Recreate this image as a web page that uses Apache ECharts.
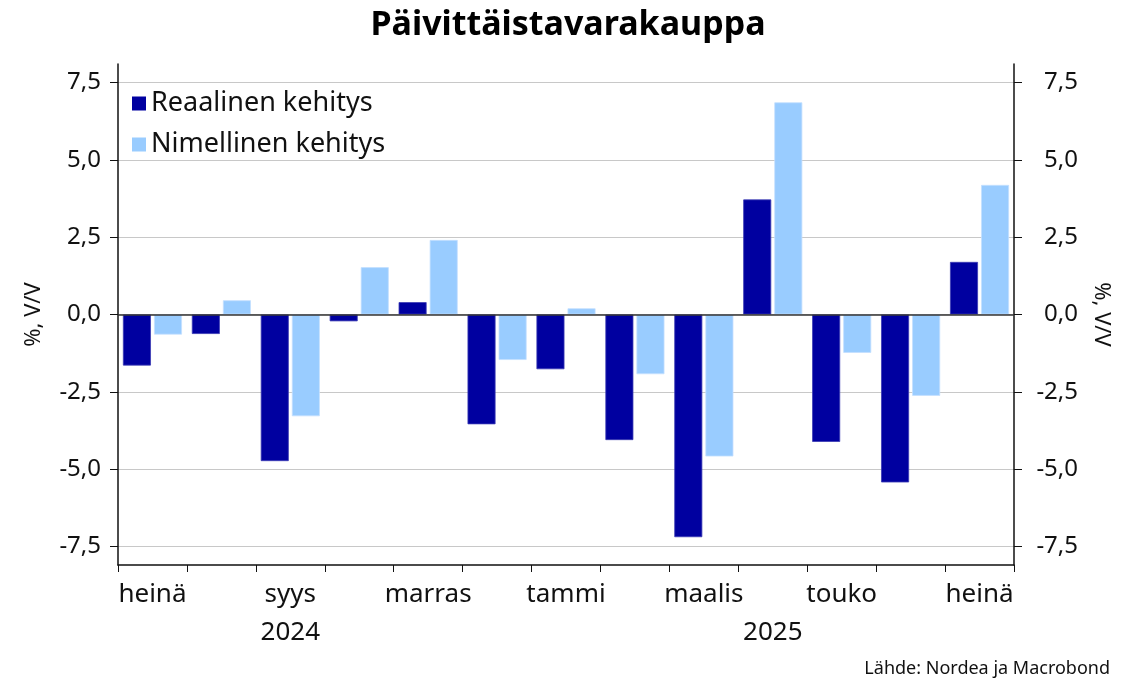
<!DOCTYPE html>
<html>
<head>
<meta charset="utf-8">
<script src="https://cdn.jsdelivr.net/npm/echarts@6/dist/echarts.min.js"></script>
<style>
html,body{margin:0;padding:0;background:#fff;}
#c{width:1136px;height:683px;}
</style>
</head>
<body>
<div id="c"></div>
<script>
const title = 'Päivittäistavarakauppa';
const months = ['heinä','elo','syys','loka','marras','joulu','tammi','helmi','maalis','huhti','touko','kesä','heinä'];
const yearLabels = {2:'2024', 9:'2025'};
const realName = 'Reaalinen kehitys';
const nomName = 'Nimellinen kehitys';
const realValues = [-1.65,-0.63,-4.74,-0.22,0.40,-3.55,-1.77,-4.06,-7.20,3.72,-4.12,-5.43,1.70];
const nomValues  = [-0.65,0.46,-3.29,1.53,2.41,-1.47,0.20,-1.93,-4.59,6.86,-1.24,-2.63,4.19];
const yTicks = [-7.5,-5,-2.5,0,2.5,5,7.5];
const yName = '%, V/V';
const source = 'Lähde: Nordea ja Macrobond';

const FONT = 'Noto Sans';
const fmt = v => (v < 0 ? '-' : '') + Math.abs(v).toFixed(1).replace('.', ',');

const chart = echarts.init(document.getElementById('c'), null, {renderer:'canvas'});

function yAxisCfg(pos) {
  const right = pos === 'right';
  return {
    type:'value', position:pos, min:-8.1, max:8.1,
    name: yName, nameLocation:'middle', nameGap: right ? 76 : 73,
    nameRotate: right ? -90 : 90,
    nameTextStyle:{fontFamily:FONT, fontSize:22, color:'#111'},
    axisLine:{show:true, lineStyle:{color:'#111', width:1.5}},
    axisTick:{show:true, length:8, customValues:yTicks, lineStyle:{color:'#111', width:1}},
    axisLabel:{show:true, customValues:yTicks, formatter:fmt, fontFamily:FONT, fontSize:24, color:'#111',
               align:'right', margin: right ? 64 : 17},
    splitLine:{show:!right, lineStyle:{color:'#c8c8c8', width:1}}
  };
}

chart.setOption({
  animation:false,
  title:{text:title, left:'center', top:3, textStyle:{fontFamily:FONT, fontSize:34, fontWeight:'bold', color:'#000'}},
  legend:{
    orient:'vertical', left:127, top:85, itemWidth:14, itemHeight:14, itemGap:14, icon:'rect',
    itemStyle:{borderWidth:0},
    textStyle:{fontFamily:FONT, fontSize:27, color:'#111'},
    data:[realName, nomName]
  },
  grid:{left:118, right:122, top:64, bottom:118, containLabel:false},
  xAxis:{
    type:'category', data:months, boundaryGap:true,
    axisLine:{show:true, onZero:false, lineStyle:{color:'#111', width:1.5}},
    axisTick:{show:true, interval:0, length:7, lineStyle:{color:'#111'}},
    axisLabel:{
      interval:(i) => i % 2 === 0 || yearLabels[i] !== undefined,
      margin:11, fontFamily:FONT, fontSize:26, color:'#111', lineHeight:38,
      formatter:(v, i) => {
        const m = i % 2 === 0 ? v : '';
        return yearLabels[i] ? m + '\n' + yearLabels[i] : m;
      }
    },
    splitLine:{show:false}
  },
  yAxis:[yAxisCfg('left'), yAxisCfg('right')],
  series:[
    {name:realName, type:'bar', data:realValues, barWidth:28, barGap:'11%',
     itemStyle:{color:'#0000a0', borderColor:'#3a3ab4', borderWidth:0.8},
     markLine:{silent:true, symbol:'none', label:{show:false},
       lineStyle:{color:'#333', width:1.5, type:'solid'}, data:[{yAxis:0}]}},
    {name:nomName, type:'bar', data:nomValues, barWidth:28, barGap:'11%',
     itemStyle:{color:'#99ccff', borderColor:'#c4e0ff', borderWidth:0.8}}
  ],
  graphic:[
    {type:'text', right:26, top:660, style:{text:source, fontFamily:FONT, fontSize:18, fill:'#111'}}
  ]
});
</script>
</body>
</html>
